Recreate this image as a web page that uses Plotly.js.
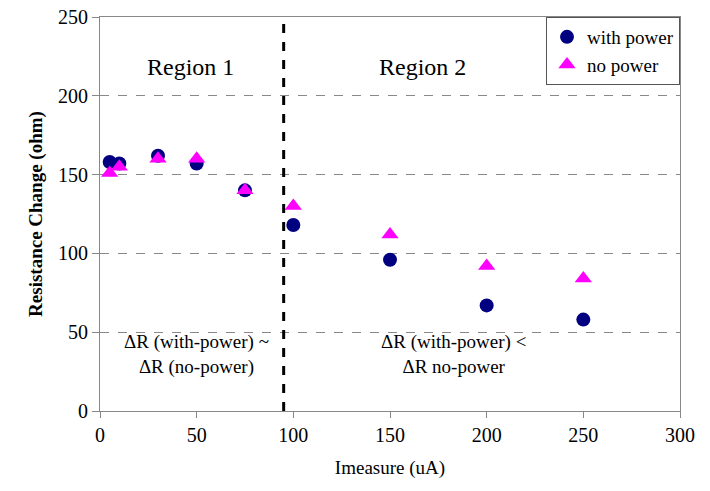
<!DOCTYPE html>
<html><head><meta charset="utf-8">
<script src="https://cdn.plot.ly/plotly-3.0.1.min.js"></script>
<style>html,body{margin:0;padding:0;background:#fff}#c{width:710px;height:491px}</style>
</head><body><div id="c"></div>
<script>
const currentUA = [5, 10, 30, 50, 75, 100, 150, 200, 250];
const withPower = [158, 157, 162, 157, 140, 118, 96, 67, 58];
const noPower = [151, 155, 160, 160, 140, 130, 112, 92, 84];
const boundaryX = 95;
const xTicks = [0, 50, 100, 150, 200, 250, 300];
const yTicks = [0, 50, 100, 150, 200, 250];

const fam = "Liberation Serif";
function f(size) { return {family: fam, size: size, color: "#000", weight: "normal"}; }
const traces = [
  {x: currentUA, y: withPower, name: "with power", mode: "markers", type: "scatter",
   marker: {symbol: "circle", size: 14, color: "#000080"}},
  {x: currentUA, y: noPower, name: "no power", mode: "markers", type: "scatter",
   marker: {symbol: "triangle-up", size: 15, color: "#ff00ff"}}
];
const layout = {
  width: 710, height: 491,
  margin: {l: 100, r: 30, t: 17, b: 80},
  paper_bgcolor: "#fff", plot_bgcolor: "#fff",
  showlegend: true,
  legend: {x: 1, y: 1, xanchor: "right", yanchor: "top", bordercolor: "#555", borderwidth: 1,
    bgcolor: "#fff", font: f(19), itemsizing: "trace", tracegroupgap: 4},
  xaxis: {range: [0, 300], tickvals: xTicks, ticks: "outside", ticklen: 6, tickcolor: "#888",
    showline: true, linecolor: "#888", mirror: true, showgrid: false, zeroline: false,
    title: {text: "Imeasure (uA)", font: f(19), standoff: 15},
    tickfont: f(20)},
  yaxis: {range: [0, 250], tickvals: yTicks, ticks: "outside", ticklen: 7, tickcolor: "#888",
    showline: true, linecolor: "#888", mirror: true, showgrid: true, gridcolor: "#888",
    griddash: "dash", gridwidth: 1, zeroline: false,
    title: {text: "<b>Resistance Change (ohm)</b>", font: f(19), standoff: 10},
    tickfont: f(20)},
  shapes: [{type: "line", xref: "x", yref: "y", x0: boundaryX, x1: boundaryX, y0: 0, y1: 250,
    line: {color: "#000", width: 3, dash: "dash"}}],
  annotations: [
    {x: 47, y: 218, xref: "x", yref: "y", text: "Region 1", showarrow: false, font: f(24)},
    {x: 167, y: 218, xref: "x", yref: "y", text: "Region 2", showarrow: false, font: f(24)},
    {x: 50, y: 36, xref: "x", yref: "y", text: "ΔR (with-power) ~<br>ΔR (no-power)", showarrow: false, font: f(19)},
    {x: 183, y: 36, xref: "x", yref: "y", text: "ΔR (with-power) &lt;<br>ΔR no-power", showarrow: false, font: f(19)}
  ]
};
Plotly.newPlot("c", traces, layout, {staticPlot: true});
</script></body></html>
